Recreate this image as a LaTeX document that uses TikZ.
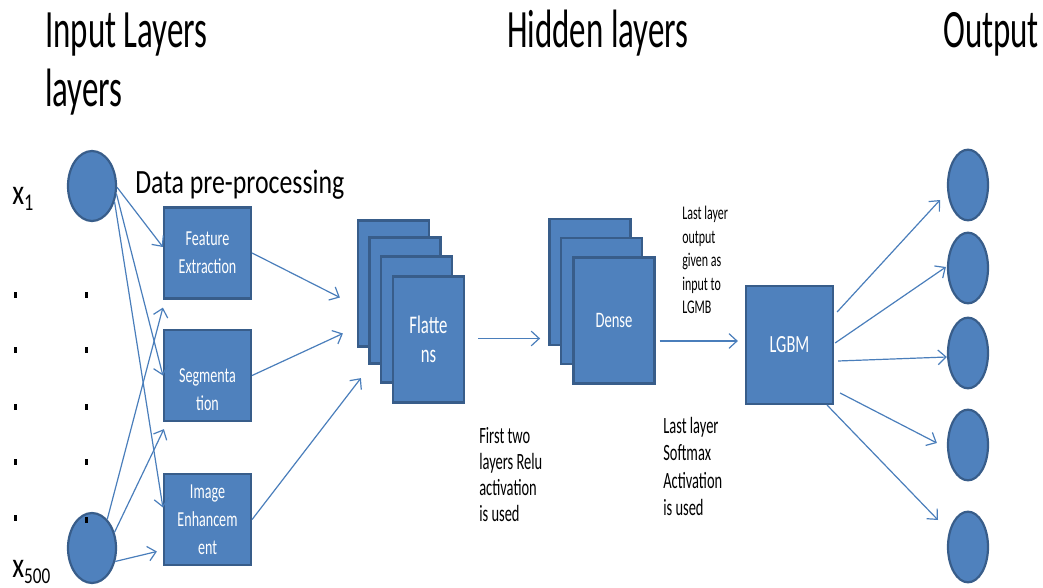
\documentclass[tikz,border=0pt]{standalone}
\usepackage{fontspec}
\setmainfont{Carlito}[FakeStretch=0.76]
\newfontfamily\headfont{Carlito}[FakeStretch=0.61]
\newfontfamily\notefont{Carlito}[FakeStretch=0.62]
\newfontfamily\boxfont{Carlito}[FakeStretch=0.66]
\usetikzlibrary{arrows.meta,calc,shapes.geometric}
\definecolor{unitfill}{HTML}{4F81BD}
\definecolor{unitline}{HTML}{385D8A}
\definecolor{linkblue}{HTML}{4A7EBB}
\newcommand\fsz[2]{\fontsize{#1}{#2}\selectfont}

\begin{document}
\begin{tikzpicture}[x=0.75pt,y=-0.75pt,
  neuron/.style={ellipse,fill=unitfill,draw=unitline,line width=1.65pt,inner sep=0},
  innode/.style={neuron,minimum width=36pt,minimum height=52.5pt},
  outnode/.style={neuron,minimum width=30pt,minimum height=53pt},
  block/.style={rectangle,fill=unitfill,draw=unitline,line width=1.65pt,inner sep=0,text=white,align=center},
  prep/.style={block,minimum width=65.25pt,minimum height=68.25pt,font=\boxfont\fsz{16}{21}},
  flat/.style={block,minimum width=53.25pt,minimum height=94.5pt},
  dense/.style={block,minimum width=60.75pt,minimum height=94.5pt},
  link/.style={draw=linkblue,line width=0.9pt,-{Straight Barb[length=6pt,width=11pt]}},
  title/.style={inner sep=0,align=left,font=\headfont\fsz{40.5}{44}},
  note/.style={anchor=north west,inner sep=0,align=left},
]
\useasboundingbox (0,0) rectangle (1043,588);

% column titles
\node[title,anchor=north west] (tin) at (45,13) {Input Layers\\layers};
\node[title,anchor=base west] (thid) at (507,48) {Hidden layers};
\node[title,anchor=base west] (tout) at (943,48) {Output};

% input units
\node[innode] (x1) at (92,186) {};
\node[innode] (x500) at (92,548) {};
\node[anchor=base west,inner sep=0,font=\fsz{27}{30}] (lx1) at (12,205) {x\raisebox{-4.5pt}{\fsz{18}{18}\selectfont 1}};
\node[anchor=base west,inner sep=0,font=\fsz{27}{30}] (lx500) at (12,577) {x\raisebox{-5pt}{\fsz{17}{17}\selectfont 500}};
\foreach \y in {295,350,407,462,518} \fill (13.5,\y-3) rectangle ++(3,6);
\foreach \y in {295,350,407,462,520} \fill (85,\y-3) rectangle ++(3,6);

% pre-processing blocks
\node[anchor=base west,inner sep=0,font=\fsz{25.5}{30}] (dpp) at (135,194) {Data pre-processing};
\node[prep] (fe) at (207.5,253) {Feature\\Extraction};
\node[prep] (seg) at (207.5,375.5) {};
\node[align=center,text=white,inner sep=0,font=\boxfont\fsz{16}{21}] (segtxt) at ($(seg)+(0,14)$) {Segmenta\\tion};
\node[prep] (ie) at (207.5,519.5) {Image\\Enhancem\\ent};

% flatten stack
\node[flat] (fl1) at (393.5,283.5) {};
\node[flat] (fl2) at (405,300.5) {};
\node[flat] (fl3) at (416.5,319.5) {};
\node[flat,font=\boxfont\fsz{19}{22}] (fl4) at (428.5,339.5) {Flatte\\ns};

% dense stack
\node[dense] (dn1) at (590,282) {};
\node[dense] (dn2) at (601.5,301) {};
\node[dense,font=\boxfont\fsz{16.6}{20}] (dn3) at (614,320.5) {Dense};

% classifier
\node[block,minimum width=65.25pt,minimum height=88.5pt,font=\boxfont\fsz{18.5}{20}] (lgbm) at (789.5,345) {LGBM};

% output units
\node[outnode] (o1) at (968,185) {};
\node[outnode] (o2) at (968,268) {};
\node[outnode] (o3) at (968,353) {};
\node[outnode] (o4) at (968,445) {};
\node[outnode] (o5) at (968,547) {};

% inputs to pre-processing
\draw[link] (x1.-3) -- ($(fe.west)+(0,-6)$);
\draw[link] (x1.-18) -- (seg.west);
\draw[link] (x1.-35) -- ($(ie.west)+(0,-12)$);
\draw[link] (x500.62) -- ($(fe.south west)+(0,8)$);
\draw[link] (x500.35) -- ($(seg.south west)+(1,7)$);
\draw[link] (x500.-30) -- ($(ie.west)+(-6,32)$);

% pre-processing to flatten
\draw[link] (fe.east) -- ($(fl1.west)+(-17,14)$);
\draw[link] (seg.east) -- ($(fl1.west)+(-14,50)$);
\draw[link] (ie.east) -- ($(fl2.south west)+(-7.5,13.5)$);

% flatten to dense to classifier
\coordinate (fa) at ($(fl4.east)+(13,-1)$);
\coordinate (fb) at ($(fa)+(62,0)$);
\draw[link] (fa) -- (fb);
\coordinate (da) at ($(dn3.east)+(4,20.5)$);
\draw[link] (da) -- ($(da -| lgbm.west)+(-7,0)$);

% classifier to outputs
\draw[link] ($(lgbm.east)+(3,-33)$) -- ($(o1)+(-28,15)$);
\draw[link] ($(lgbm.east)+(1,-2)$) -- ($(o2.west)+(-1,-1)$);
\draw[link] ($(lgbm.east)+(4,16)$) -- ($(o3.west)+(0,4)$);
\draw[link] ($(lgbm.east)+(6,48)$) -- ($(o4.west)+(-10,-2)$);
\draw[link] ($(lgbm.south east)+(-7,0)$) -- ($(o5)+(-30,-27)$);

% annotations
\node[note,font=\notefont\fsz{14.5}{17.6}] (lgin) at (682,206) {Last layer\\output\\given as\\input to\\LGMB};
\node[note,font=\notefont\fsz{17.5}{19.5}] (relu) at (479,427) {First two\\layers Relu\\activation\\is used};
\node[note,font=\notefont\fsz{17.5}{20.5}] (soft) at (663,417) {Last layer\\Softmax\\Activation\\is used};
\end{tikzpicture}
\end{document}
